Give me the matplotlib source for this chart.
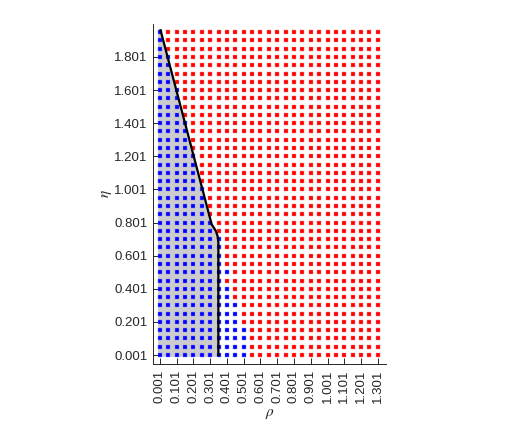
import matplotlib
matplotlib.use("Agg")
import matplotlib.pyplot as plt

plt.rcParams["font.family"] = ["Liberation Sans", "DejaVu Sans"]
plt.rcParams["mathtext.fontset"] = "stix"

# grid of tested parameters
rho_vals = [0.001, 0.051, 0.101, 0.151, 0.201, 0.251, 0.301, 0.351, 0.401,
            0.451, 0.501, 0.551, 0.601, 0.651, 0.701, 0.751, 0.801, 0.851,
            0.901, 0.951, 1.001, 1.051, 1.101, 1.151, 1.201, 1.251, 1.301]
eta_vals = [0.001, 0.051, 0.101, 0.151, 0.201, 0.251, 0.301, 0.351, 0.401,
            0.451, 0.501, 0.551, 0.601, 0.651, 0.701, 0.751, 0.801, 0.851,
            0.901, 0.951, 1.001, 1.051, 1.101, 1.151, 1.201, 1.251, 1.301,
            1.351, 1.401, 1.451, 1.501, 1.551, 1.601, 1.651, 1.701, 1.751,
            1.801, 1.851, 1.901, 1.951]
# number of stable (blue) points counted from the left in each eta row
n_stable = [11, 11, 11, 11, 10, 10, 10, 9, 9, 8,
            9, 8, 8, 8, 8, 7, 7, 6, 6, 6,
            6, 5, 5, 5, 5, 4, 4, 4, 4, 3,
            3, 3, 3, 2, 2, 2, 2, 1, 1, 1]

# estimated stability boundary
bound_rho = [0.35, 0.35, 0.345, 0.335, 0.31, 0.005]
bound_eta = [0.001, 0.68, 0.72, 0.75, 0.79, 1.962]

ticks_x = [0.001, 0.101, 0.201, 0.301, 0.401, 0.501, 0.601, 0.701, 0.801,
           0.901, 1.001, 1.101, 1.201, 1.301]
ticks_y = [0.001, 0.201, 0.401, 0.601, 0.801, 1.001, 1.201, 1.401, 1.601, 1.801]

fig = plt.figure(figsize=(5.18, 4.24), dpi=100, facecolor="w")
ax = fig.add_axes([0.2954, 0.1415, 0.4498, 0.8019])

# shaded region left of the boundary
poly_x = [-0.01, bound_rho[0]] + bound_rho[1:] + [-0.01]
poly_y = [-0.01, -0.01] + bound_eta[1:] + [bound_eta[-1]]
ax.fill(poly_x, poly_y, color="#cccccc", lw=0, zorder=1)

bx, by, rx, ry = [], [], [], []
for j, eta in enumerate(eta_vals):
    for i, rho in enumerate(rho_vals):
        if i < n_stable[j]:
            bx.append(rho)
            by.append(eta)
        else:
            rx.append(rho)
            ry.append(eta)

ax.scatter(bx, by, marker="s", s=10, color="#0000ff", lw=0.3,
           edgecolor="#8080ff", zorder=2)
ax.scatter(rx, ry, marker="s", s=10, color="#ff0000", lw=0.3,
           edgecolor="#ff8080", zorder=2)
ax.plot(bound_rho, bound_eta, color="k", lw=1.6, zorder=3)

ax.set_xlim(-0.04, 1.35)
ax.set_ylim(-0.053, 2.0)
ax.set_xticks(ticks_x)
ax.set_xticklabels(["%.3f" % t for t in ticks_x], rotation=90)
ax.set_yticks(ticks_y)
ax.set_yticklabels(["%.3f" % t for t in ticks_y])

for s in ["top", "right"]:
    ax.spines[s].set_visible(False)
for s in ["left", "bottom"]:
    ax.spines[s].set_color("#262626")
    ax.spines[s].set_linewidth(0.7)
ax.tick_params(direction="in", length=4, width=0.7, color="#262626",
               labelcolor="#262626", labelsize=9.5, pad=4)

ax.set_xlabel(r"$\rho$", fontsize=11, color="#262626", labelpad=3)
ax.set_ylabel(r"$\eta$", fontsize=11, color="#262626", labelpad=0)

fig.savefig("out.png", dpi=100)
